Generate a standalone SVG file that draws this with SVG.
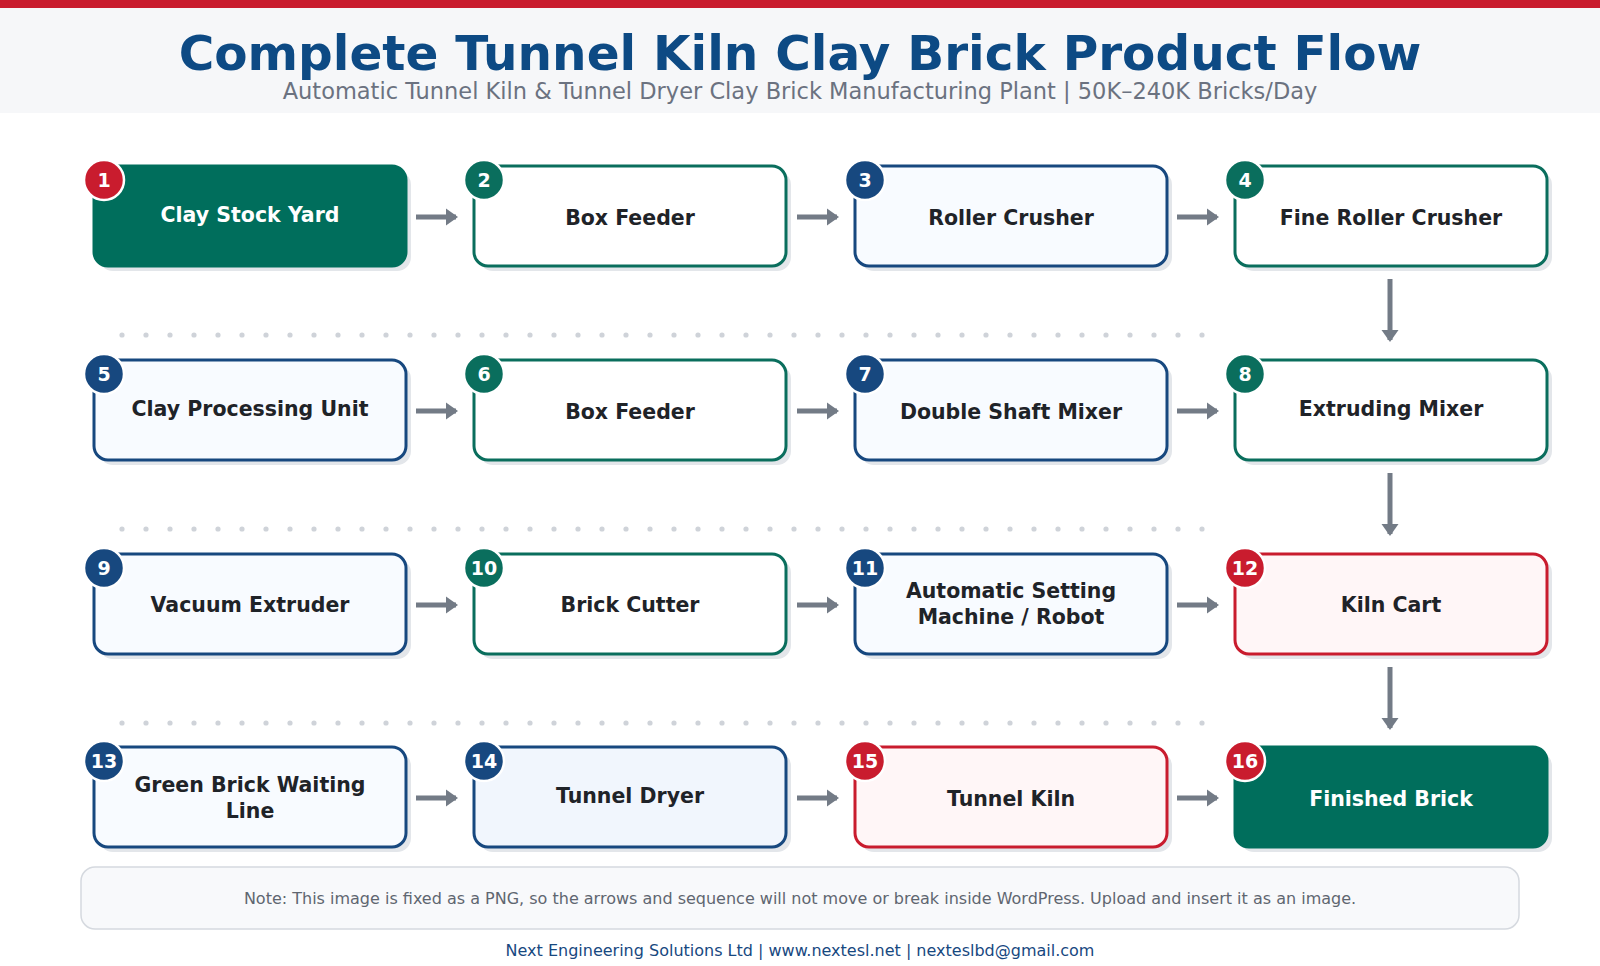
<svg xmlns="http://www.w3.org/2000/svg" width="1600" height="966" viewBox="0 0 1600 966">
<defs>
<style>
text{font-family:"DejaVu Sans","Liberation Sans",sans-serif}
.sh{fill:#e3e6ea}
.b{stroke-width:3}
.g{fill:#fff;stroke:#0a6e5d}
.bl{fill:#f8fbff;stroke:#17487f}
.r{fill:#fff6f7;stroke:#c91c2e}
.f{fill:#006e5c;stroke:#006e5c}
.lb{font-size:20.5px;font-weight:bold;fill:#1f2328;text-anchor:middle}
.lw{fill:#fff}
.bd{stroke:#fff;stroke-width:2.5}
.bt{font-size:19px;font-weight:bold;fill:#fff;text-anchor:middle}
.cR{fill:#c91c2e}.cG{fill:#0a6e5d}.cB{fill:#17487f}
.ar{stroke:#737b86;stroke-width:5;fill:none}
.dot{fill:#cfd3d9}
</style>
<marker id="ah" markerWidth="4" markerHeight="4" refX="2" refY="2" orient="auto" markerUnits="strokeWidth"><path d="M0,0.3L2.4,2L0,3.7Z" fill="#737b86"/></marker>
<pattern id="dp" width="24" height="194" patternUnits="userSpaceOnUse" x="110" y="330"><circle cx="12" cy="5" r="2.6" class="dot"/></pattern>
</defs>
<rect width="1600" height="113" fill="#f6f7f9"/>
<rect width="1600" height="8" fill="#c91c2e"/>
<text x="800" y="70" text-anchor="middle" font-size="48.5" font-weight="bold" fill="#0d4a84">Complete Tunnel Kiln Clay Brick Product Flow</text>
<text x="800" y="99" text-anchor="middle" font-size="22.5" fill="#6b7280">Automatic Tunnel Kiln &amp; Tunnel Dryer Clay Brick Manufacturing Plant | 50K–240K Bricks/Day</text>
<g id="dots">
<rect x="110" y="330" width="1104" height="400" fill="url(#dp)"/>
</g>
<g id="connectors">
<path class="ar" d="M416,217H456" marker-end="url(#ah)"/>
<path class="ar" d="M797,217H837" marker-end="url(#ah)"/>
<path class="ar" d="M1177,217H1217" marker-end="url(#ah)"/>
<path class="ar" d="M416,411H456" marker-end="url(#ah)"/>
<path class="ar" d="M797,411H837" marker-end="url(#ah)"/>
<path class="ar" d="M1177,411H1217" marker-end="url(#ah)"/>
<path class="ar" d="M416,605H456" marker-end="url(#ah)"/>
<path class="ar" d="M797,605H837" marker-end="url(#ah)"/>
<path class="ar" d="M1177,605H1217" marker-end="url(#ah)"/>
<path class="ar" d="M416,798H456" marker-end="url(#ah)"/>
<path class="ar" d="M797,798H837" marker-end="url(#ah)"/>
<path class="ar" d="M1177,798H1217" marker-end="url(#ah)"/>
<path class="ar" d="M1390,279V340" marker-end="url(#ah)"/>
<path class="ar" d="M1390,473V534" marker-end="url(#ah)"/>
<path class="ar" d="M1390,667V728" marker-end="url(#ah)"/>
</g>
<g id="n1"><rect class="sh" x="99" y="171" width="312" height="100" rx="14"/><rect class="b f" x="94" y="166" width="312" height="100" rx="14"/><text class="lb lw" x="250" y="222">Clay Stock Yard</text><circle class="bd cR" cx="104" cy="180" r="20"/><text class="bt" x="104" y="187">1</text></g>
<g id="n2"><rect class="sh" x="479" y="171" width="312" height="100" rx="14"/><rect class="b g" x="474" y="166" width="312" height="100" rx="14"/><text class="lb" x="630" y="225">Box Feeder</text><circle class="bd cG" cx="484" cy="180" r="20"/><text class="bt" x="484" y="187">2</text></g>
<g id="n3"><rect class="sh" x="860" y="171" width="312" height="100" rx="14"/><rect class="b bl" x="855" y="166" width="312" height="100" rx="14"/><text class="lb" x="1011" y="225">Roller Crusher</text><circle class="bd cB" cx="865" cy="180" r="20"/><text class="bt" x="865" y="187">3</text></g>
<g id="n4"><rect class="sh" x="1240" y="171" width="312" height="100" rx="14"/><rect class="b g" x="1235" y="166" width="312" height="100" rx="14"/><text class="lb" x="1391" y="225">Fine Roller Crusher</text><circle class="bd cG" cx="1245" cy="180" r="20"/><text class="bt" x="1245" y="187">4</text></g>
<g id="n5"><rect class="sh" x="99" y="365" width="312" height="100" rx="14"/><rect class="b bl" x="94" y="360" width="312" height="100" rx="14"/><text class="lb" x="250" y="416">Clay Processing Unit</text><circle class="bd cB" cx="104" cy="374" r="20"/><text class="bt" x="104" y="381">5</text></g>
<g id="n6"><rect class="sh" x="479" y="365" width="312" height="100" rx="14"/><rect class="b g" x="474" y="360" width="312" height="100" rx="14"/><text class="lb" x="630" y="419">Box Feeder</text><circle class="bd cG" cx="484" cy="374" r="20"/><text class="bt" x="484" y="381">6</text></g>
<g id="n7"><rect class="sh" x="860" y="365" width="312" height="100" rx="14"/><rect class="b bl" x="855" y="360" width="312" height="100" rx="14"/><text class="lb" x="1011" y="419">Double Shaft Mixer</text><circle class="bd cB" cx="865" cy="374" r="20"/><text class="bt" x="865" y="381">7</text></g>
<g id="n8"><rect class="sh" x="1240" y="365" width="312" height="100" rx="14"/><rect class="b g" x="1235" y="360" width="312" height="100" rx="14"/><text class="lb" x="1391" y="416">Extruding Mixer</text><circle class="bd cG" cx="1245" cy="374" r="20"/><text class="bt" x="1245" y="381">8</text></g>
<g id="n9"><rect class="sh" x="99" y="559" width="312" height="100" rx="14"/><rect class="b bl" x="94" y="554" width="312" height="100" rx="14"/><text class="lb" x="250" y="612">Vacuum Extruder</text><circle class="bd cB" cx="104" cy="568" r="20"/><text class="bt" x="104" y="575">9</text></g>
<g id="n10"><rect class="sh" x="479" y="559" width="312" height="100" rx="14"/><rect class="b g" x="474" y="554" width="312" height="100" rx="14"/><text class="lb" x="630" y="612">Brick Cutter</text><circle class="bd cG" cx="484" cy="568" r="20"/><text class="bt" x="484" y="575">10</text></g>
<g id="n11"><rect class="sh" x="860" y="559" width="312" height="100" rx="14"/><rect class="b bl" x="855" y="554" width="312" height="100" rx="14"/><text class="lb" x="1011" y="598">Automatic Setting</text><text class="lb" x="1011" y="624">Machine / Robot</text><circle class="bd cB" cx="865" cy="568" r="20"/><text class="bt" x="865" y="575">11</text></g>
<g id="n12"><rect class="sh" x="1240" y="559" width="312" height="100" rx="14"/><rect class="b r" x="1235" y="554" width="312" height="100" rx="14"/><text class="lb" x="1391" y="612">Kiln Cart</text><circle class="bd cR" cx="1245" cy="568" r="20"/><text class="bt" x="1245" y="575">12</text></g>
<g id="n13"><rect class="sh" x="99" y="752" width="312" height="100" rx="14"/><rect class="b bl" x="94" y="747" width="312" height="100" rx="14"/><text class="lb" x="250" y="792">Green Brick Waiting</text><text class="lb" x="250" y="818">Line</text><circle class="bd cB" cx="104" cy="761" r="20"/><text class="bt" x="104" y="768">13</text></g>
<g id="n14"><rect class="sh" x="479" y="752" width="312" height="100" rx="14"/><rect class="b bl" x="474" y="747" width="312" height="100" rx="14" style="fill:#f1f6fd"/><text class="lb" x="630" y="803">Tunnel Dryer</text><circle class="bd cB" cx="484" cy="761" r="20"/><text class="bt" x="484" y="768">14</text></g>
<g id="n15"><rect class="sh" x="860" y="752" width="312" height="100" rx="14"/><rect class="b r" x="855" y="747" width="312" height="100" rx="14"/><text class="lb" x="1011" y="806">Tunnel Kiln</text><circle class="bd cR" cx="865" cy="761" r="20"/><text class="bt" x="865" y="768">15</text></g>
<g id="n16"><rect class="sh" x="1240" y="752" width="312" height="100" rx="14"/><rect class="b f" x="1235" y="747" width="312" height="100" rx="14"/><text class="lb lw" x="1391" y="806">Finished Brick</text><circle class="bd cR" cx="1245" cy="761" r="20"/><text class="bt" x="1245" y="768">16</text></g>
<rect x="81" y="867" width="1438" height="62" rx="14" fill="#f8f9fb" stroke="#d5d9df" stroke-width="1.5"/>
<text x="800" y="904" text-anchor="middle" font-size="16" fill="#5f6670">Note: This image is fixed as a PNG, so the arrows and sequence will not move or break inside WordPress. Upload and insert it as an image.</text>
<text x="800" y="956" text-anchor="middle" font-size="16" fill="#17487f">Next Engineering Solutions Ltd | www.nextesl.net | nexteslbd@gmail.com</text>
</svg>
